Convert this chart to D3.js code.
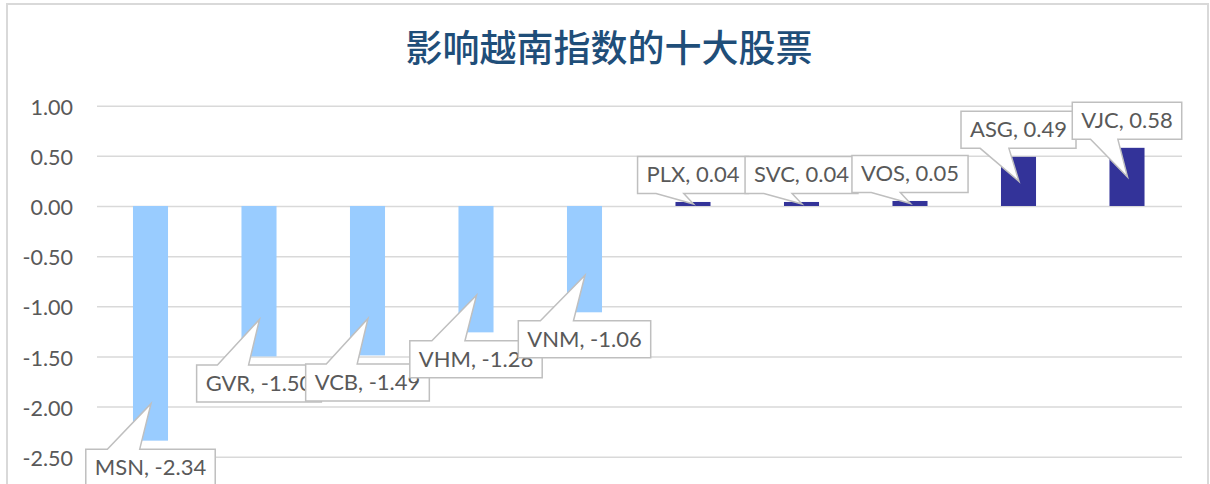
<!DOCTYPE html>
<html>
<head>
<meta charset="utf-8">
<script src="https://cdn.jsdelivr.net/npm/d3@7"></script>
<style>
  html, body { margin: 0; padding: 0; background: #fff; }
  svg { display: block; }
</style>
</head>
<body>
<svg id="chart" width="1210" height="484"></svg>
<script>
// chart data
const title = "影响越南指数的十大股票";
const tickers = ["MSN", "GVR", "VCB", "VHM", "VNM", "PLX", "SVC", "VOS", "ASG", "VJC"];
const impact = [-2.34, -1.50, -1.49, -1.26, -1.06, 0.04, 0.04, 0.05, 0.49, 0.58];
const yTicks = [1.00, 0.50, 0.00, -0.50, -1.00, -1.50, -2.00, -2.50];

const W = 1210, H = 484;
const plot = { left: 96.25, right: 1181.25, top: 105.7, bottom: 456.7 };
const labelFont = "Lato, 'Noto Sans', sans-serif";
const fmt = v => d3.format(".2f")(v).replace("\u2212", "-");

const svg = d3.select("#chart");

// chart frame
svg.append("rect")
    .attr("x", 7).attr("y", 4)
    .attr("width", 1201).attr("height", 520)
    .attr("fill", "#fff")
    .attr("stroke", "#D9D9D9")
    .attr("stroke-width", 2);

svg.append("text")
    .attr("x", 609)
    .attr("y", 62)
    .attr("text-anchor", "middle")
    .style("font-family", "'Noto Sans CJK SC', sans-serif")
    .style("font-size", "37px")
    .style("font-weight", 500)
    .style("fill", "#1F4E79")
    .text(title);

const x = d3.scaleBand()
    .domain(tickers)
    .range([plot.left, plot.right])
    .paddingInner(0.677)
    .paddingOuter(0.677 / 2);

const y = d3.scaleLinear()
    .domain([-2.5, 1])
    .range([plot.bottom, plot.top]);

// gridlines + tick labels
const yAxis = svg.append("g")
    .attr("transform", `translate(${plot.left + 0.75},0)`)
    .call(d3.axisLeft(y)
        .tickValues(yTicks)
        .tickFormat(fmt)
        .tickSizeInner(-(plot.right - plot.left))
        .tickSizeOuter(0)
        .tickPadding(24));

yAxis.select(".domain").remove();
yAxis.selectAll(".tick line")
    .attr("stroke", "#D9D9D9")
    .attr("stroke-width", 1.5);
yAxis.selectAll(".tick text")
    .attr("dy", "0.4em")
    .style("font-family", labelFont)
    .style("font-size", "21.5px")
    .style("fill", "#595959");

const rows = tickers.map((t, i) => ({ t, v: impact[i] }));

svg.append("g")
    .selectAll("rect")
    .data(rows)
    .join("rect")
    .attr("x", d => x(d.t))
    .attr("width", x.bandwidth())
    .attr("y", d => y(Math.max(0, d.v)))
    .attr("height", d => Math.abs(y(d.v) - y(0)))
    .attr("fill", d => d.v < 0 ? "#99CCFF" : "#333399");

// callout labels
const boxH = 37, gap = 8.5, pad = 9;
const labels = svg.append("g");

rows.forEach(d => {
    const cx = x(d.t) + x.bandwidth() / 2;
    const end = y(d.v), y0 = y(0);
    const len = Math.abs(end - y0);
    const tipX = cx + 0.5;
    const tipY = end + Math.sign(y0 - end) * Math.min(37, len / 2);

    const g = labels.append("g");
    const txt = g.append("text")
        .attr("text-anchor", "middle")
        .style("font-family", labelFont)
        .style("font-size", "22px")
        .style("fill", "#595959")
        .text(`${d.t}, ${fmt(d.v)}`);

    const w = txt.node().getComputedTextLength() + pad * 2;
    const x0 = cx - w / 2, x1 = cx + w / 2;
    const top = d.v < 0 ? end + gap : end - gap - boxH;
    const bot = top + boxH;
    const b1 = x0 + w * 2 / 12, b2 = x0 + w * 5 / 12;

    const p = d3.path();
    if (d.v < 0) {
        p.moveTo(x0, top); p.lineTo(b1, top); p.lineTo(tipX, tipY); p.lineTo(b2, top);
        p.lineTo(x1, top); p.lineTo(x1, bot); p.lineTo(x0, bot);
    } else {
        p.moveTo(x0, top); p.lineTo(x1, top); p.lineTo(x1, bot); p.lineTo(b2, bot);
        p.lineTo(tipX, tipY); p.lineTo(b1, bot); p.lineTo(x0, bot);
    }
    p.closePath();

    g.insert("path", "text")
        .attr("d", p.toString())
        .attr("fill", "#fff")
        .attr("stroke", "#BFBFBF")
        .attr("stroke-width", 1.5)
        .attr("stroke-linejoin", "miter");

    txt.attr("x", cx).attr("y", top + 26);
});
</script>
</body>
</html>
